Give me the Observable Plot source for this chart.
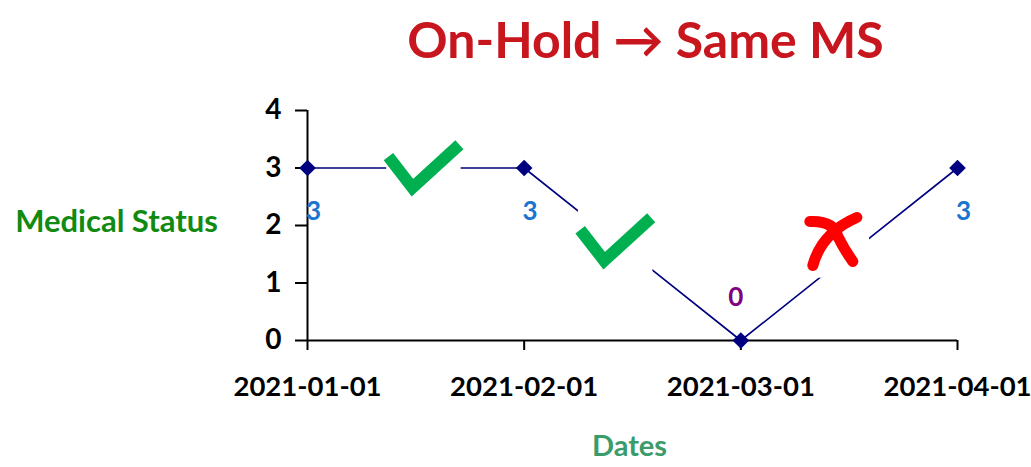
<!DOCTYPE html>
<html><head><meta charset="utf-8">
<script src="https://cdn.jsdelivr.net/npm/d3@7"></script>
<script src="https://cdn.jsdelivr.net/npm/@observablehq/plot@0.6"></script>
<style>body{margin:0;background:#fff;} svg{display:block;}</style>
</head><body><div id="chart"></div>
<script>
const dates = ["2021-01-01", "2021-02-01", "2021-03-01", "2021-04-01"];
const status = [3, 3, 0, 3];
const yTicks = [0, 1, 2, 3, 4];
const title = "On-Hold → Same MS";
const yLabel = "Medical Status";
const xLabel = "Dates";
// annotation marks (check / cross) placed between dates
const markPos = [0.535, 1.42, 2.42];
const markVal = [3.04, 1.77, 1.74];
const markKind = ["ok", "ok", "bad"];

const pts = dates.map((d, i) => ({i, d, v: status[i]}));
const marks = markPos.map((x, k) => ({x, y: markVal[k], kind: markKind[k]}));
const font = "Lato, 'Open Sans', sans-serif";

// custom symbols (shape only; scaled by r)
const checkSymbol = {
  draw(ctx, size) {
    const r = Math.sqrt(size / Math.PI);
    ctx.moveTo(-3.5 * r, -0.9 * r);
    ctx.lineTo(-1.1 * r, 2.2 * r);
    ctx.lineTo(3.6 * r, -2.1 * r);
  }
};
const crossSymbol = {
  draw(ctx, size) {
    const r = Math.sqrt(size / Math.PI);
    ctx.moveTo(-2.2 * r, -1.9 * r);
    ctx.quadraticCurveTo(0.2 * r, -2.0 * r, 0.6 * r, -0.4 * r);
    ctx.quadraticCurveTo(1.3 * r, 1.0 * r, 2.1 * r, 2.1 * r);
    ctx.moveTo(2.5 * r, -2.3 * r);
    ctx.quadraticCurveTo(-1.0 * r, -0.8 * r, -1.9 * r, 2.5 * r);
  }
};

const chart = Plot.plot({
  width: 1031, height: 467,
  marginLeft: 307, marginRight: 74, marginTop: 110, marginBottom: 127,
  style: {fontFamily: font, background: "#fff", overflow: "visible"},
  x: {type: "linear", domain: [0, 3]},
  y: {domain: [0, 4]},
  marks: [
    Plot.axisY({ticks: yTicks, tickFormat: "d", tickSize: 12, tickPadding: 14, fontSize: 28, fontWeight: "bold", label: null, stroke: "#000", strokeWidth: 2, color: "#000"}),
    Plot.axisX({ticks: [0, 1, 2, 3], tickFormat: i => dates[i], tickSize: 10, tickPadding: 26, fontSize: 27.5, fontWeight: "bold", label: null, strokeWidth: 2, color: "#000"}),
    Plot.ruleX([0], {stroke: "#000", strokeWidth: 2}),
    Plot.ruleY([0], {stroke: "#000", strokeWidth: 2}),
    Plot.line(pts, {x: "i", y: "v", stroke: "#000080", strokeWidth: 1.6}),
    Plot.dot(pts, {x: "i", y: "v", symbol: "diamond2", r: 7.5, fill: "#000080"}),
    Plot.text(pts.filter(d => d.v > 0), {x: "i", y: "v", text: d => String(d.v), dy: 44, dx: 6,
      fill: "#1a75cf", fontSize: 26, fontWeight: "bold", lineAnchor: "middle"}),
    Plot.text(pts.filter(d => d.v === 0), {x: "i", y: "v", text: d => String(d.v), dy: -43, dx: -5,
      fill: "#800080", fontSize: 26, fontWeight: "bold", lineAnchor: "middle"}),
    Plot.dot(marks, {x: "x", y: "y", symbol: "square", r: 42, fill: "#fff"}),
    Plot.dot(marks.filter(d => d.kind === "ok"), {x: "x", y: "y", symbol: checkSymbol, r: 10, fill: "none",
      stroke: "#00b050", strokeWidth: 12, strokeLinejoin: "miter", strokeLinecap: "butt"}),
    Plot.dot(marks.filter(d => d.kind === "bad"), {x: "x", y: "y", symbol: crossSymbol, r: 10, fill: "none",
      stroke: "#ff0000", strokeWidth: 11, strokeLinecap: "round", strokeLinejoin: "round"}),
    Plot.text([title], {frameAnchor: "top", dx: 13, dy: -69, lineAnchor: "middle", fontSize: 50, fontWeight: "bold", fill: "#c8161e"}),
    Plot.text([yLabel], {frameAnchor: "left", dx: -191, dy: -3, textAnchor: "middle", lineAnchor: "middle", fontSize: 31, fontWeight: "bold", fill: "#108a10"}),
    Plot.text([xLabel], {frameAnchor: "bottom", dx: -3, dy: 106, lineAnchor: "middle", fontSize: 29, fontWeight: "bold", fill: "#3a9b6b"})
  ]
});
document.getElementById("chart").appendChild(chart);
</script></body></html>
